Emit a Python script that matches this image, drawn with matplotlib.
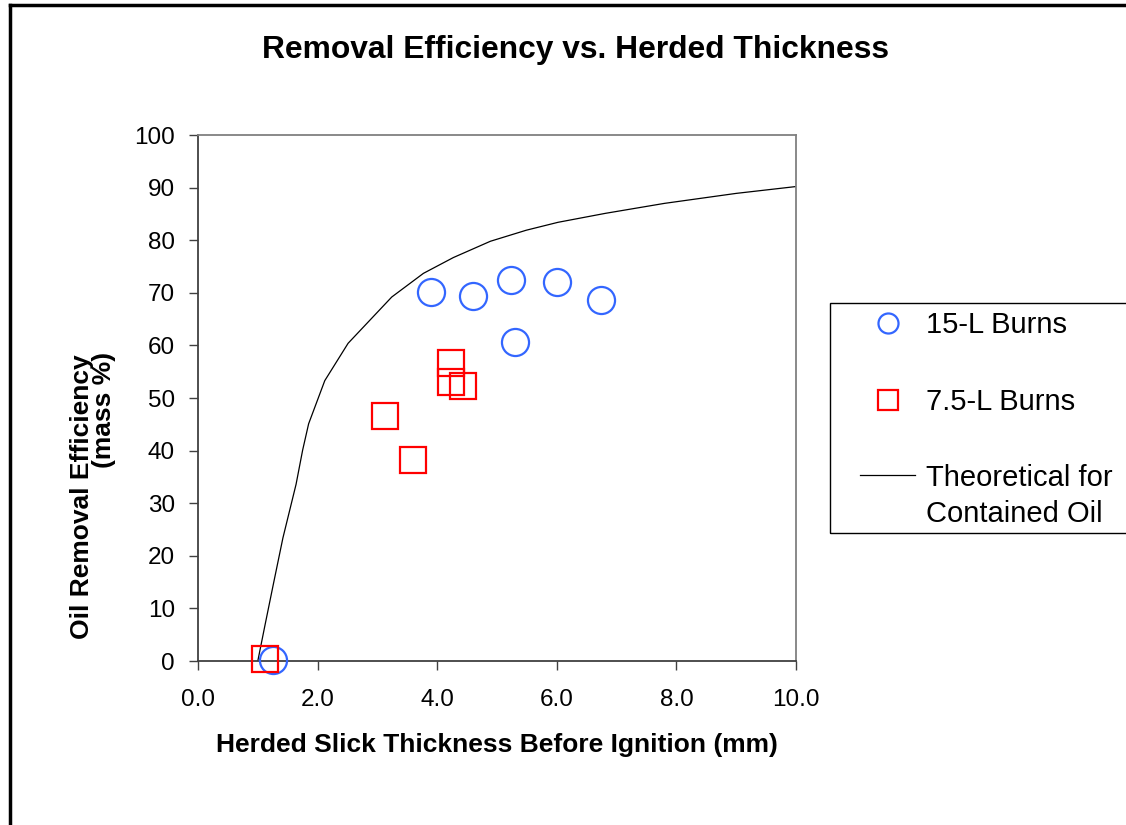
import matplotlib
matplotlib.use("Agg")
import numpy as np
import matplotlib.pyplot as plt
from matplotlib.lines import Line2D
from matplotlib.patches import Rectangle
from matplotlib.legend_handler import HandlerLine2D

plt.rcParams['font.family'] = ['Liberation Sans', 'DejaVu Sans']

# Data
burns15_x = [3.90, 4.60, 5.23, 6.01, 6.74, 5.30, 1.25]
burns15_y = [70.1, 69.4, 72.4, 72.1, 68.7, 60.7, 0.2]

burns75_x = [4.23, 4.23, 4.43, 3.13, 3.60, 1.12]
burns75_y = [56.6, 53.1, 52.3, 46.6, 38.3, 0.3]

theory_x = [1.0, 1.12, 1.26, 1.42, 1.64, 1.75, 1.85, 2.12, 2.51, 3.24, 3.77,
            4.27, 4.89, 5.49, 6.02, 6.81, 7.80, 9.00, 10.0]
theory_y = [0.0, 6.8, 14.6, 23.4, 33.6, 40.1, 45.1, 53.3, 60.4, 69.2, 73.7,
            76.7, 79.8, 81.9, 83.4, 85.1, 87.0, 88.9, 90.2]

x_ticks = [0, 2, 4, 6, 8, 10]
y_ticks = list(range(0, 101, 10))

W, H = 1126, 825
fig = plt.figure(figsize=(W / 100, H / 100), dpi=100)
fig.patch.set_facecolor('white')

def fx(px):
    return px / W

def fy(py):
    return 1 - py / H

# outer chart-area border (top and left visible)
fig.add_artist(Line2D([fx(10), fx(10)], [fy(5), 0], color='black', lw=2.5))
fig.add_artist(Line2D([fx(10), 1], [fy(5), fy(5)], color='black', lw=2.5))

ax = fig.add_axes([fx(198), fy(661), fx(796) - fx(198), fy(135) - fy(661)])

ax.plot(theory_x, theory_y, color='black', lw=0.9, label='Theoretical for\nContained Oil', zorder=2)
ax.plot(burns15_x, burns15_y, linestyle='none', marker='o', ms=19.5, mfc='none',
        mec='#3366FF', mew=1.6, label='15-L Burns', clip_on=False, zorder=3)
ax.plot(burns75_x, burns75_y, linestyle='none', marker='s', ms=18.5, mfc='none',
        mec='#FF0000', mew=1.6, label='7.5-L Burns', clip_on=False, zorder=4)

ax.set_xlim(0, 10)
ax.set_ylim(0, 100)
ax.set_xticks(x_ticks)
ax.set_xticklabels([f"{v:.1f}" for v in x_ticks])
ax.set_yticks(y_ticks)
ax.set_yticklabels([str(v) for v in y_ticks])
ax.tick_params(axis='both', labelsize=17.5, direction='out', length=6.5, width=1, color='#404040')
ax.tick_params(axis='x', pad=13.5)
ax.tick_params(axis='y', pad=10)

for s in ['top', 'right']:
    ax.spines[s].set_color('#808080')
    ax.spines[s].set_linewidth(1.3)
for s in ['left', 'bottom']:
    ax.spines[s].set_color('#404040')
    ax.spines[s].set_linewidth(1.3)

fig.text(fx(575), fy(50), 'Removal Efficiency vs. Herded Thickness', ha='center', va='center',
         fontsize=22.9, fontweight='bold')
fig.text(fx(497), fy(745), 'Herded Slick Thickness Before Ignition (mm)', ha='center', va='center',
         fontsize=19, fontweight='bold')
fig.text(fx(82), fy(497), 'Oil Removal Efficiency', ha='center', va='center', rotation=90,
         fontsize=19, fontweight='bold')
fig.text(fx(104), fy(410), '(mass %)', ha='center', va='center', rotation=90,
         fontsize=19, fontweight='bold')

# legend frame (extends past the right edge like the reference)
fig.add_artist(Rectangle((fx(830), fy(533)), fx(400), fy(303) - fy(533),
                         transform=fig.transFigure, fill=False, edgecolor='black', lw=1.0))


class RaisedLine(HandlerLine2D):
    """Legend line aligned with the first line of a two-line label."""
    def create_artists(self, *args, **kwargs):
        artists = super().create_artists(*args, **kwargs)
        for a in artists:
            a.set_ydata(np.asarray(a.get_ydata()) + 16.0)
        return artists


h, l = ax.get_legend_handles_labels()
order = [1, 2, 0]
leg = fig.legend([h[i] for i in order], [l[i] for i in order],
                 loc='upper left', bbox_to_anchor=(fx(860), fy(311)),
                 fontsize=21, frameon=False, markerscale=0.74,
                 handlelength=1.9, handletextpad=0.38, labelspacing=1.67,
                 borderpad=0, borderaxespad=0,
                 handler_map={h[0]: RaisedLine()})
leg.get_texts()[2].set_linespacing(1.35)

fig.savefig('out.png', dpi=100)
